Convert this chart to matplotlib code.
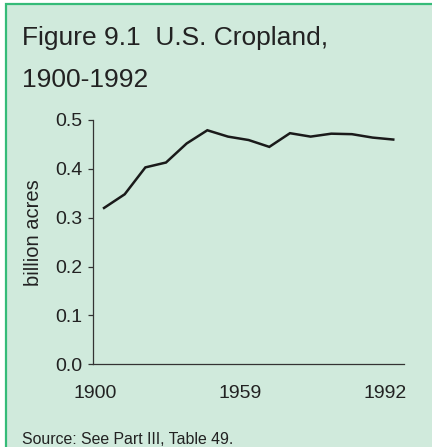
import matplotlib
matplotlib.use("Agg")
import matplotlib.pyplot as plt
from matplotlib.patches import Rectangle

plt.rcParams['font.family'] = ['Liberation Sans', 'DejaVu Sans']

# Data (billion acres), 15 observations 1900-1992
values = [0.320, 0.348, 0.403, 0.413, 0.452, 0.479, 0.466, 0.459,
          0.445, 0.473, 0.466, 0.472, 0.471, 0.464, 0.460]
tick_labels = ["1900", "1959", "1992"]
tick_pos = [-0.45, 6.57, 13.6]
yticks = [0.0, 0.1, 0.2, 0.3, 0.4, 0.5]

W, H = 432, 447
fig = plt.figure(figsize=(W / 100, H / 100), dpi=100, facecolor='white')

bg = '#d0eadc'
border = '#35bb78'
fig.patches.append(Rectangle((6 / W, -0.1), 1.2, (H - 4) / H + 0.1,
                             transform=fig.transFigure, facecolor=bg,
                             edgecolor=border, linewidth=1.6, zorder=-5))

ax = fig.add_axes([93.3 / W, (H - 364.3) / H, (404 - 93.3) / W, (364.3 - 120) / H])
ax.set_facecolor('none')
ax.set_zorder(2)

x = list(range(len(values)))
ax.plot(x, values, color='#1a1a1a', linewidth=1.8, solid_joinstyle='miter')

ax.set_xlim(-0.52, len(values) - 0.48)
ax.set_ylim(0, 0.5)
ax.set_yticks(yticks)
ax.set_yticklabels([f"{v:.1f}" for v in yticks])
ax.set_xticks(tick_pos)
ax.set_xticklabels(tick_labels)

for s in ['top', 'right']:
    ax.spines[s].set_visible(False)
for s in ['left', 'bottom']:
    ax.spines[s].set_color('#333333')
    ax.spines[s].set_linewidth(0.9)

ax.tick_params(axis='y', direction='out', length=3.6, width=0.9, color='#333333',
               labelsize=14, labelcolor='#222222', pad=4.5)
ax.tick_params(axis='x', length=0, labelsize=14, labelcolor='#222222', pad=15)

ax.set_ylabel("billion acres", fontsize=14.5, color='#222222', va='center')
ax.yaxis.set_label_coords(-0.194, 0.54)

fig.text(22 / W, 1 - 45 / H, "Figure 9.1  U.S. Cropland,", fontsize=19,
         color='#222222', ha='left', va='baseline')
fig.text(22 / W, 1 - 87 / H, "1900-1992", fontsize=19,
         color='#222222', ha='left', va='baseline')
fig.text(22 / W, 1 - 444 / H, "Source: See Part III, Table 49.", fontsize=11.4,
         color='#222222', ha='left', va='baseline')

fig.savefig("out.png", dpi=100, facecolor=fig.get_facecolor())
